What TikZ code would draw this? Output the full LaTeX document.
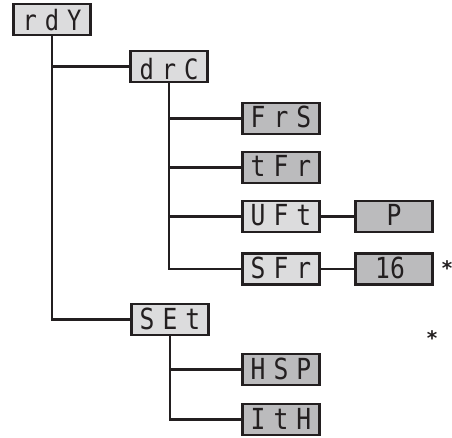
\documentclass[tikz,border=0pt]{standalone}
\usepackage{fontspec}
\newfontfamily\segfont[FakeStretch=0.85]{DejaVu Sans Mono}
\newfontfamily\starfont{DejaVu Sans}
\newcommand{\gp}{\kern8pt}
\newcommand{\gq}{\kern8pt}
\definecolor{ink}{HTML}{231F20}
\definecolor{lightbox}{HTML}{DCDCDD}
\definecolor{darkbox}{HTML}{BBBBBD}
\begin{document}
\begin{tikzpicture}[x=1pt,y=-1pt,
  menubox/.style={draw=ink, line width=2.8pt, minimum width=77pt, minimum height=31pt,
    inner sep=0pt, font=\segfont\fontsize{29}{29}\selectfont, text=ink,
    text height=19pt, text depth=0pt},
  smalltext/.style={font=\segfont\fontsize{28}{28}\selectfont, text height=27pt},
  lite/.style={menubox, fill=lightbox},
  dark/.style={menubox, fill=darkbox},
  link/.style={draw=ink, line width=2.5pt},
  star/.style={font=\starfont\bfseries\fontsize{20}{20}\selectfont, text=ink, inner sep=0pt}]
\useasboundingbox (0,0) rectangle (452,438);
\node[lite, smalltext, text height=22pt] (rdY) at (52,19.5) {r\gq d\gq Y};
\node[lite, smalltext] (drC) at (169,66.5) {d\gq r\gq C};
\node[dark] (FrS) at (281,118.5) {F\gp r\gp S};
\node[dark] (tFr) at (281,167.5) {t\gp F\gp r};
\node[lite] (UFt) at (281,216.5) {U\gp F\gp t};
\node[dark] (P) at (394,216.5) {P};
\node[lite] (SFr) at (281,269) {S\gp F\gp r};
\node[dark] (v16) at (394,269) {\kern-8pt 16};
\node[lite] (SEt) at (170,319.5) {S\gp E\gp t};
\node[dark] (HSP) at (281,369.5) {H\gp S\gp P};
\node[dark] (ItH) at (281,419.5) {I\gp t\gp H};
\node[star] (s1) at (447,268) {*};
\node[star] (s2) at (432,338) {*};
\draw[link] (rdY.south) |- (drC.west);
\draw[link] (rdY.south) |- (SEt.west);
\draw[link] (drC.south) |- (FrS.west);
\draw[link] (drC.south) |- (tFr.west);
\draw[link] (drC.south) |- (UFt.west);
\draw[link] (drC.south) |- (SFr.west);
\draw[link] (SEt.south) |- (HSP.west);
\draw[link] (SEt.south) |- (ItH.west);
\draw[link] (UFt.east) -- (P.west);
\draw[link] (SFr.east) -- (v16.west);
\end{tikzpicture}
\end{document}
